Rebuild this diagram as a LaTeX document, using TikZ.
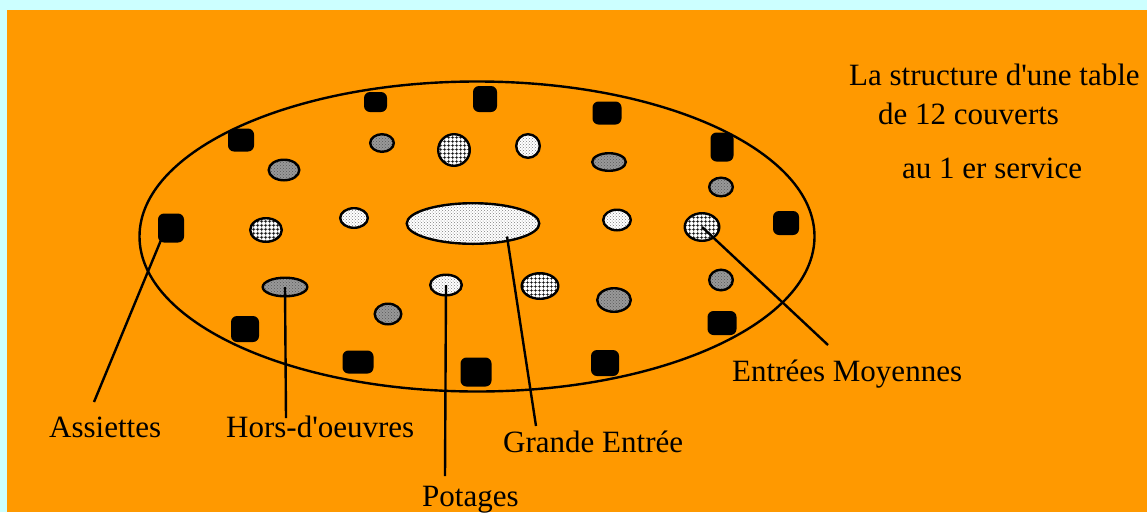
\documentclass[tikz,border=0pt]{standalone}
\usepackage{fontspec}
\setmainfont{Liberation Serif}
\usetikzlibrary{shapes.geometric,patterns,calc}
\definecolor{bgcyan}{HTML}{CCFFFF}
\definecolor{bgorange}{HTML}{FF9900}
\pgfdeclarepatternformonly{widegrid}{\pgfqpoint{0pt}{0pt}}{\pgfqpoint{3.6pt}{3.6pt}}{\pgfqpoint{3.6pt}{3.6pt}}{%
  \pgfsetlinewidth{0.75pt}%
  \pgfpathmoveto{\pgfqpoint{1.8pt}{0pt}}\pgfpathlineto{\pgfqpoint{1.8pt}{3.6pt}}%
  \pgfpathmoveto{\pgfqpoint{0pt}{1.8pt}}\pgfpathlineto{\pgfqpoint{3.6pt}{1.8pt}}%
  \pgfusepath{stroke}}
\begin{document}
\begin{tikzpicture}[x=1pt,y=-1pt,
  plate/.style 2 args={rectangle, fill=black, rounded corners=6pt, inner sep=0pt,
    minimum width=#1pt, minimum height=#2pt},
  dish/.style 2 args={ellipse, draw=black, line width=2.4pt, inner sep=0pt,
    minimum width={#1pt-2.4pt}, minimum height={#2pt-2.4pt}},
  horsd/.style={preaction={fill=gray!80}, pattern=crosshatch dots, pattern color=black!65},
  potage/.style={preaction={fill=white}, pattern=crosshatch dots, pattern color=black!50},
  entree/.style={preaction={fill=white}, pattern=widegrid, pattern color=black},
  lab/.style={anchor=base west, inner sep=0pt, font=\fontsize{31}{36}\selectfont},
  conn/.style={draw=black, line width=2.4pt}
]
\useasboundingbox (0,0) rectangle (1147,512);
\fill[bgcyan] (0,0) rectangle (1147,512);
\fill[bgorange] (7,10) rectangle (1147,512);

% table
\node[ellipse, draw=black, line width=2.4pt, inner sep=0pt,
  minimum width=675pt, minimum height=310pt] (table) at (477,236.5) {};

% plates (assiettes)
\node[plate={23}{20}] (a1) at (375.5,102) {};
\node[plate={24}{26}] (a2) at (485,99) {};
\node[plate={29}{23}] (a3) at (607,113) {};
\node[plate={23}{29}] (a4) at (722,147) {};
\node[plate={26}{23}] (a5) at (241,140) {};
\node[plate={26}{29}] (a6) at (171,228) {};
\node[plate={26}{24}] (a7) at (786,223) {};
\node[plate={28}{26}] (a8) at (245,329) {};
\node[plate={31}{23}] (a9) at (358,362) {};
\node[plate={31}{29}] (a10) at (476,372) {};
\node[plate={28}{26}] (a11) at (605,363) {};
\node[plate={29}{24}] (a12) at (722,323) {};

% hors-d'oeuvres
\node[dish={26}{20}, horsd] (h1) at (382,143) {};
\node[dish={33}{23}, horsd] (h2) at (284,170) {};
\node[dish={36}{20}, horsd] (h3) at (609,162) {};
\node[dish={26}{21}, horsd] (h4) at (721,187) {};
\node[dish={47}{21}, horsd] (h5) at (285,287) {};
\node[dish={29}{23}, horsd] (h6) at (388,314) {};
\node[dish={36}{26}, horsd] (h7) at (614,300) {};
\node[dish={26}{23}, horsd] (h8) at (721,280) {};

% potages
\node[dish={26}{26}, potage] (p1) at (528,146) {};
\node[dish={30}{22}, potage] (p2) at (354,218) {};
\node[dish={30}{23}, potage] (p3) at (617,220) {};
\node[dish={34}{23}, potage] (p4) at (446,285) {};

% entrees moyennes
\node[dish={34}{34}, entree] (m1) at (454,150) {};
\node[dish={34}{26}, entree] (m2) at (266,230) {};
\node[dish={37}{30}, entree] (m3) at (702,227) {};
\node[dish={39}{28}, entree] (m4) at (540,286) {};

% grande entree
\node[dish={135}{43}, potage] (ge) at (473,223.5) {};

% texts
\node[lab] (t1) at (849,85) {La structure d\textquotesingle une table};
\node[lab] (t2) at (878,124) {de 12 couverts};
\node[lab] (t3) at (902,178) {au 1 er service};

\node[lab] (lA) at (49,437) {Assiettes};
\node[lab] (lH) at (226,437) {Hors-d\textquotesingle oeuvres};
\node[lab] (lP) at (422,506) {Potages};
\node[lab] (lG) at (503,452) {Grande Entrée};
\node[lab] (lM) at (732,381) {Entrées Moyennes};

% connector ends
\coordinate (eA) at (94,402);
\coordinate (eH) at (286,418);
\coordinate (eP) at (445,476);
\coordinate (eG) at (536,426);
\coordinate (eM) at (828,345);

\draw[conn] ($(a6.center)+(-10,12)$) -- (eA);
\draw[conn] (h5.center) -- (eH);
\draw[conn] (p4.center) -- (eP);
\draw[conn] ($(ge.center)+(34,13)$) -- (eG);
\draw[conn] (m3.center) -- (eM);
\end{tikzpicture}
\end{document}
